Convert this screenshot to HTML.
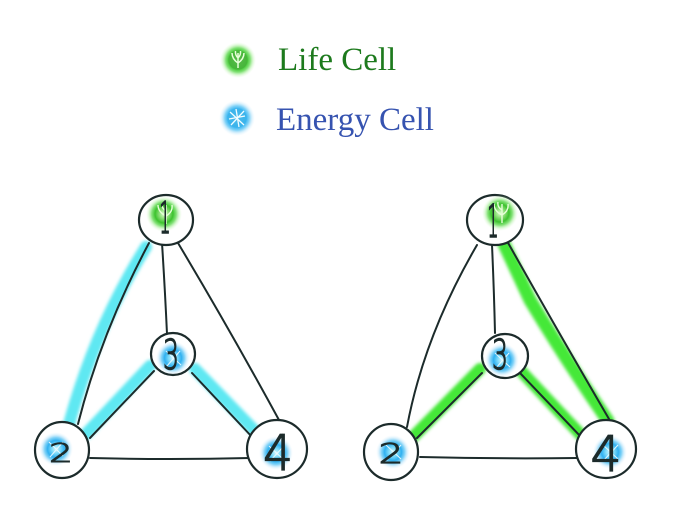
<!DOCTYPE html>
<html><head><meta charset="utf-8">
<style>
html,body{margin:0;padding:0;background:#fff;}
svg{display:block;}
</style></head>
<body>
<svg width="688" height="526" viewBox="0 0 688 526" xmlns="http://www.w3.org/2000/svg">
<defs>
  <radialGradient id="gb" cx="50%" cy="50%" r="50%">
    <stop offset="0%" stop-color="#d8f8ff"/>
    <stop offset="25%" stop-color="#7fdcfa"/>
    <stop offset="50%" stop-color="#2fb0f0"/>
    <stop offset="68%" stop-color="#4cc0f4" stop-opacity="0.7"/>
    <stop offset="85%" stop-color="#9ad8f8" stop-opacity="0.3"/>
    <stop offset="100%" stop-color="#d0eefc" stop-opacity="0"/>
  </radialGradient>
  <radialGradient id="gg" cx="50%" cy="50%" r="50%">
    <stop offset="0%" stop-color="#dcffd0"/>
    <stop offset="25%" stop-color="#8fe07a"/>
    <stop offset="50%" stop-color="#3cc22e"/>
    <stop offset="68%" stop-color="#5ad84a" stop-opacity="0.75"/>
    <stop offset="85%" stop-color="#a6ee96" stop-opacity="0.35"/>
    <stop offset="100%" stop-color="#d8f8cc" stop-opacity="0"/>
  </radialGradient>
  <filter id="soft" x="-20%" y="-20%" width="140%" height="140%">
    <feGaussianBlur stdDeviation="1.6"/>
  </filter>
</defs>

<!-- Legend -->
<circle cx="238" cy="60" r="18" fill="url(#gg)"/>
<circle cx="238" cy="60" r="9.5" fill="#48b43c" opacity="0.9"/>
<path d="M238,68 L238,53 M238,63 Q232,59 232,53 M238,63 Q244,59 244,53 M238,58 Q235,55 235.5,51 M238,58 Q241,55 240.5,51" stroke="#e6ffd8" stroke-width="1.5" fill="none"/>
<circle cx="237" cy="118" r="18" fill="url(#gb)"/>
<circle cx="237" cy="118" r="9.5" fill="#3cb4ea" opacity="0.9"/>
<path d="M230,112 L244,125 M244,111 L231,125 M236,109 L239,127 M229,119 L245,116" stroke="#f0fcff" stroke-width="1.3" fill="none"/>
<text x="278" y="70" font-family="Liberation Serif, serif" font-size="33" fill="#1d7a1d">Life Cell</text>
<text x="276" y="130" font-family="Liberation Serif, serif" font-size="33" fill="#3653b0">Energy Cell</text>

<!-- LEFT DIAGRAM highlights -->
<g stroke="#5ee8f2" stroke-linecap="round" fill="none" filter="url(#soft)">
  <path d="M146,247 Q94,330 68,428" stroke-width="12"/>
  <path d="M150,366 L86,434" stroke-width="12"/>
  <path d="M195,369 L254,430" stroke-width="12"/>
</g>
<!-- LEFT lines -->
<g stroke="#1c2b2b" stroke-width="2" fill="none" stroke-linecap="round">
  <path d="M149,243 Q101,333 78,424"/>
  <path d="M162,243 Q165,290 167,334"/>
  <path d="M178,243 Q230,330 279,420"/>
  <path d="M154,371 L90,438"/>
  <path d="M192,373 L253,438"/>
  <path d="M90,458 Q170,460 250,458"/>
</g>
<!-- LEFT nodes -->
<g stroke="#1c2b2b" stroke-width="2.2" fill="#fff">
  <ellipse cx="166" cy="220" rx="27" ry="25"/>
  <ellipse cx="173" cy="354" rx="22" ry="21"/>
  <ellipse cx="62" cy="450" rx="27" ry="28"/>
  <ellipse cx="277" cy="449" rx="30" ry="29"/>
</g>
<circle cx="164" cy="214" r="18" fill="url(#gg)"/>
<path d="M166,224 L166,205 M166,216 Q158,212 158,205 M166,216 Q173,212 172,205 M166,211 Q161,208 162,203" stroke="#e6ffd8" stroke-width="1.4" fill="none"/>
<circle cx="173" cy="358" r="17" fill="url(#gb)"/>
<circle cx="56" cy="449" r="17" fill="url(#gb)"/>
<circle cx="276" cy="453" r="17" fill="url(#gb)"/>
<g stroke="#f0fcff" stroke-width="1.1" fill="none" opacity="0.9">
  <path d="M166,351 L181,365 M180,351 L167,366"/>
  <path d="M49,442 L63,456 M63,442 L50,457"/>
  <path d="M269,446 L284,460 M284,446 L270,461"/>
</g>
<g font-family="DejaVu Sans ExtraLight, DejaVu Sans, sans-serif" font-weight="200" fill="#1c2b2b" stroke="#1c2b2b" stroke-width="1" text-anchor="middle">
  <text transform="translate(165,233) scale(0.6,1.45)" font-size="30">1</text>
  <text transform="translate(61,462) scale(1.45,1.0)" font-size="26">2</text>
  <text transform="translate(171,369) scale(0.9,1.45)" font-size="28">3</text>
  <text transform="translate(278,470) scale(1.3,1.35)" font-size="36">4</text>
</g>

<!-- RIGHT DIAGRAM highlights -->
<g stroke="#44e838" stroke-linecap="round" fill="none" filter="url(#soft)">
  <path d="M504,244 Q519,276 530,300 Q566,360 608,421" stroke-width="13"/>
  <path d="M480,369 L413,437" stroke-width="12"/>
  <path d="M521,371 L581,435" stroke-width="12"/>
</g>
<!-- RIGHT lines -->
<g stroke="#1c2b2b" stroke-width="2" fill="none" stroke-linecap="round">
  <path d="M477,245 Q424,336 407,427"/>
  <path d="M492,245 Q494,290 495,333"/>
  <path d="M507,241 Q560,335 609,419"/>
  <path d="M482,373 L417,438"/>
  <path d="M520,373 L582,438"/>
  <path d="M420,457 Q500,459 577,458"/>
</g>
<!-- RIGHT nodes -->
<g stroke="#1c2b2b" stroke-width="2.2" fill="#fff">
  <ellipse cx="495" cy="220" rx="28" ry="25"/>
  <ellipse cx="505" cy="356" rx="23" ry="22"/>
  <ellipse cx="391" cy="452" rx="27" ry="28"/>
  <ellipse cx="606" cy="449" rx="30" ry="29"/>
</g>
<circle cx="500" cy="213" r="18" fill="url(#gg)"/>
<path d="M502,223 L502,204 M502,215 Q494,211 494,204 M502,215 Q509,211 508,204 M502,210 Q497,207 498,202" stroke="#e6ffd8" stroke-width="1.4" fill="none"/>
<circle cx="502" cy="360" r="17" fill="url(#gb)"/>
<circle cx="393" cy="452" r="17" fill="url(#gb)"/>
<circle cx="610" cy="452" r="17" fill="url(#gb)"/>
<g stroke="#f0fcff" stroke-width="1.1" fill="none" opacity="0.9">
  <path d="M495,353 L510,367 M509,353 L496,368"/>
  <path d="M386,445 L401,459 M401,445 L387,460"/>
  <path d="M603,445 L618,459 M618,445 L604,460"/>
</g>
<g font-family="DejaVu Sans ExtraLight, DejaVu Sans, sans-serif" font-weight="200" fill="#1c2b2b" stroke="#1c2b2b" stroke-width="1" text-anchor="middle">
  <text transform="translate(493,237) scale(0.6,1.5)" font-size="30">1</text>
  <text transform="translate(391,463) scale(1.5,1.05)" font-size="26">2</text>
  <text transform="translate(500,369) scale(0.9,1.45)" font-size="28">3</text>
  <text transform="translate(606,471) scale(1.35,1.35)" font-size="36">4</text>
</g>
</svg>
</body></html>
